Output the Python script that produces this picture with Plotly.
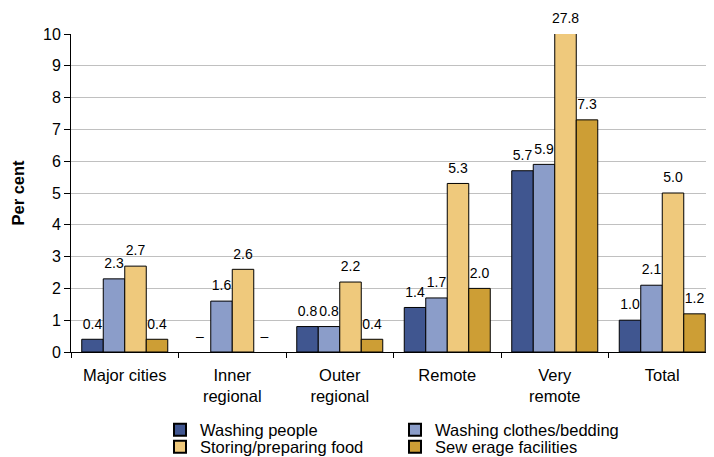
import plotly.graph_objects as go

categories = ["Major cities", "Inner<br>regional", "Outer<br>regional", "Remote", "Very<br>remote", "Total"]
series_names = ["Washing people", "Washing clothes/bedding", "Storing/preparing food", "Sew erage facilities"]
washing_people = [0.4, None, 0.8, 1.4, 5.7, 1.0]
washing_clothes = [2.3, 1.6, 0.8, 1.7, 5.9, 2.1]
storing_food = [2.7, 2.6, 2.2, 5.3, 27.8, 5.0]
sewerage = [0.4, None, 0.4, 2.0, 7.3, 1.2]
colors = ["#405690", "#8b9dc9", "#efc97c", "#cd9e35"]
legend_rows = ["legend", "legend", "legend2", "legend2"]
y_max = 10

series = [washing_people, washing_clothes, storing_food, sewerage]

fig = go.Figure()
for name, vals, col, lg in zip(series_names, series, colors, legend_rows):
    fig.add_trace(go.Bar(
        x=categories, y=vals, name=name, offsetgroup=name, legend=lg,
        marker=dict(color=col, line=dict(color="#000000", width=1)),
        showlegend=True,
    ))
for name, vals in zip(series_names, series):
    txt = ["–" if v is None else f"{v:.1f}" for v in vals]
    ypos = [0 if v is None else min(v, y_max) for v in vals]
    fig.add_trace(go.Scatter(
        x=categories, y=ypos, text=txt, mode="markers+text", offsetgroup=name,
        textposition="top center", marker=dict(size=10, opacity=0),
        textfont=dict(size=14, color="#000000", family="Liberation Sans"),
        showlegend=False, hoverinfo="skip", cliponaxis=False,
    ))

leg_common = dict(orientation="h", xref="container", yref="container", xanchor="left",
                  yanchor="middle", entrywidth=190, entrywidthmode="pixels",
                  font=dict(size=16.5), traceorder="normal", itemsizing="constant",
                  bgcolor="rgba(0,0,0,0)")

# page body adds an 8px offset; figure coordinates compensate for it
fig.update_layout(
    width=714, height=457,
    margin=dict(l=63, r=6, t=26, b=113, autoexpand=False),
    barmode="group", bargap=0.2, bargroupgap=0,
    scattermode="group", scattergap=0.2,
    plot_bgcolor="white", paper_bgcolor="white",
    font=dict(family="Liberation Sans", size=16.5, color="#000000"),
    legend=dict(x=152 / 714, y=1 - 422 / 457, **leg_common),
    legend2=dict(x=152 / 714, y=1 - 439 / 457, **leg_common),
    xaxis=dict(showline=True, linecolor="#000000", linewidth=1, ticks="outside",
               tickson="boundaries", ticklen=5, tickcolor="#000000", showgrid=False,
               tickfont=dict(size=16.5), ticklabelstandoff=8),
    yaxis=dict(range=[0, y_max], dtick=1, showline=True, linecolor="#000000", linewidth=1,
               ticks="outside", ticklen=6, tickcolor="#000000", showgrid=True,
               gridcolor="#c0c0c0", gridwidth=1, zeroline=False, tickfont=dict(size=16),
               title=dict(text="<b>Per cent</b>", font=dict(size=16.5), standoff=14)),
)
fig.write_html("out.html")
